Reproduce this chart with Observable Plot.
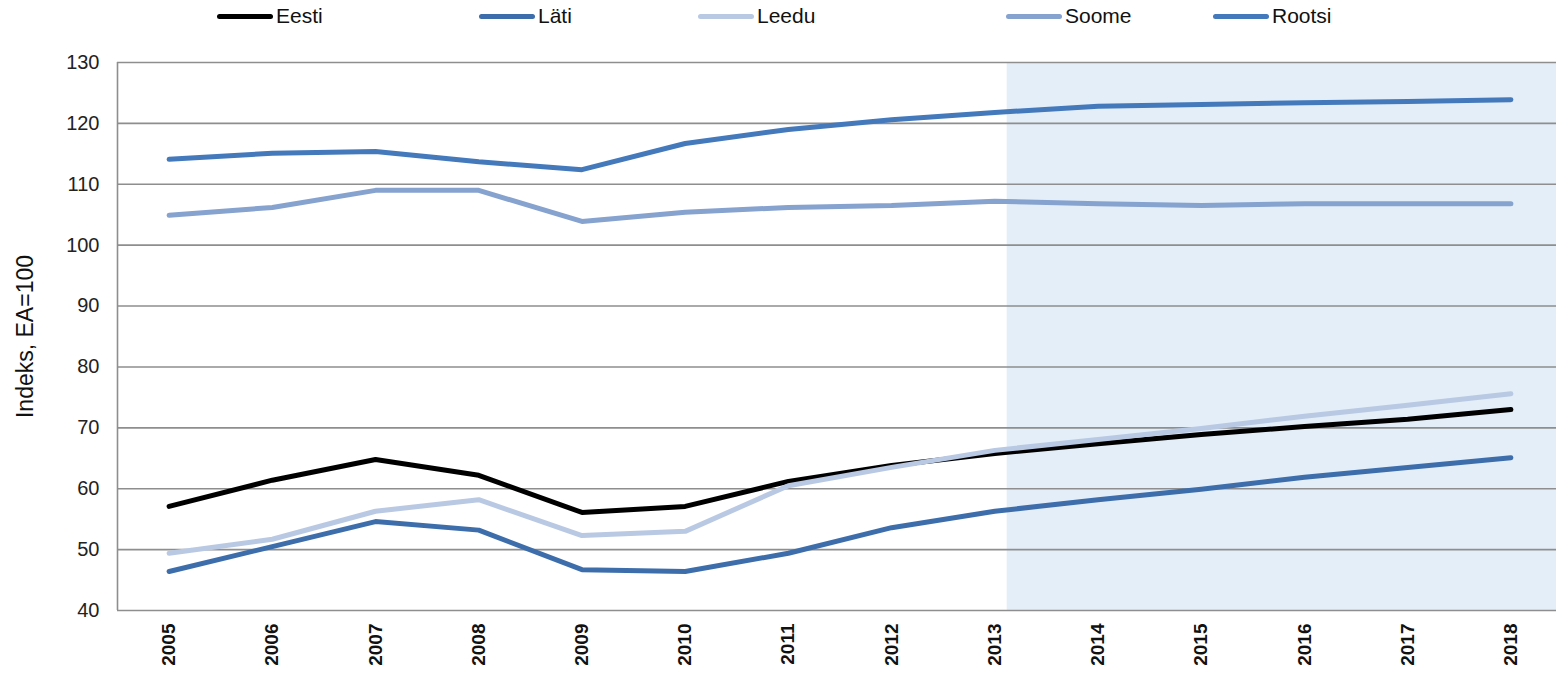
<!DOCTYPE html>
<html>
<head>
<meta charset="utf-8">
<script src="https://cdn.jsdelivr.net/npm/d3@7"></script>
<script src="https://cdn.jsdelivr.net/npm/@observablehq/plot@0.6"></script>
<style>
  html, body { margin: 0; padding: 0; background: #fff; }
  body { width: 1556px; height: 673px; overflow: hidden; font-family: "Liberation Sans", Arial, sans-serif; }
  #legend { position: relative; height: 35px; width: 1556px; }
  .item { position: absolute; top: 3px; height: 26px; display: flex; align-items: center; font-size: 21px; line-height: 26px; color: #111; }
  .sw { display: inline-block; width: 56px; height: 5px; border-radius: 3px; margin-right: 3px; }
</style>
</head>
<body>
<div id="legend"></div>
<div id="chart"></div>
<script>
const years = [2005, 2006, 2007, 2008, 2009, 2010, 2011, 2012, 2013, 2014, 2015, 2016, 2017, 2018];
const seriesNames = ["Eesti", "Läti", "Leedu", "Soome", "Rootsi"];
const seriesColors = ["#000000", "#3d6eab", "#b9c9e3", "#86a2cf", "#4479bb"];
const eesti  = [57.1, 61.4, 64.8, 62.2, 56.1, 57.1, 61.2, 63.8, 65.8, 67.4, 68.9, 70.2, 71.4, 73.0];
const lati   = [46.4, 50.5, 54.6, 53.2, 46.7, 46.4, 49.4, 53.6, 56.3, 58.2, 59.9, 61.9, 63.5, 65.1];
const leedu  = [49.4, 51.7, 56.3, 58.2, 52.3, 53.0, 60.5, 63.5, 66.3, 68.1, 69.9, 71.9, 73.7, 75.6];
const soome  = [104.9, 106.2, 109.0, 109.0, 103.9, 105.4, 106.2, 106.5, 107.2, 106.8, 106.5, 106.8, 106.8, 106.8];
const rootsi = [114.1, 115.1, 115.4, 113.7, 112.4, 116.7, 119.0, 120.6, 121.8, 122.8, 123.1, 123.4, 123.6, 123.9];
const yTicks = [40, 50, 60, 70, 80, 90, 100, 110, 120, 130];
const yLabel = "Indeks, EA=100";
const forecastStart = 2013.12;
const forecastEnd = 2018.5;

const allValues = [eesti, lati, leedu, soome, rootsi];
const data = [];
seriesNames.forEach((name, i) => {
  years.forEach((yr, j) => data.push({ series: name, year: yr, value: allValues[i][j] }));
});

// legend
const legendLeft = [217, 479, 698, 1006, 1213];
const legend = document.getElementById("legend");
seriesNames.forEach((name, i) => {
  const it = document.createElement("div");
  it.className = "item";
  it.style.left = legendLeft[i] + "px";
  const sw = document.createElement("span");
  sw.className = "sw";
  sw.style.background = seriesColors[i];
  const tx = document.createElement("span");
  tx.textContent = name;
  it.appendChild(sw);
  it.appendChild(tx);
  legend.appendChild(it);
});

const chart = Plot.plot({
  width: 1556,
  height: 638,
  marginLeft: 117,
  marginRight: 0,
  marginTop: 27,
  marginBottom: 63,
  style: { fontFamily: "Liberation Sans, Arial, sans-serif", background: "#fff" },
  x: { domain: [2004.5, 2018.5], range: [117, 1562] },
  y: { domain: [40, 130] },
  color: { domain: seriesNames, range: seriesColors },
  marks: [
    Plot.rect([{ x1: forecastStart, x2: forecastEnd }], { x1: "x1", x2: "x2", y1: 40, y2: 130, fill: "#e4eef8" }),
    Plot.ruleY(yTicks, { stroke: "#8e8e8e", strokeWidth: 1.6 }),
    Plot.ruleX([2004.5], { stroke: "#8e8e8e", strokeWidth: 1.6 }),
    Plot.axisY({ ticks: yTicks, tickSize: 0, tickPadding: 18, fontSize: 20, fill: "#222", label: null }),
    Plot.text([yLabel], { frameAnchor: "left", textAnchor: "middle", dx: -92, rotate: -90, fontSize: 23, fill: "#111", text: d => d }),
    Plot.axisX({ ticks: years, tickFormat: d => String(d), tickSize: 0, tickPadding: 13, tickRotate: -90, fontSize: 19, fontWeight: "bold", fill: "#111", label: null }),
    Plot.line(data, { x: "year", y: "value", z: "series", stroke: "series", strokeWidth: 5, strokeLinejoin: "round", strokeLinecap: "round" })
  ]
});
document.getElementById("chart").appendChild(chart);
</script>
</body>
</html>
